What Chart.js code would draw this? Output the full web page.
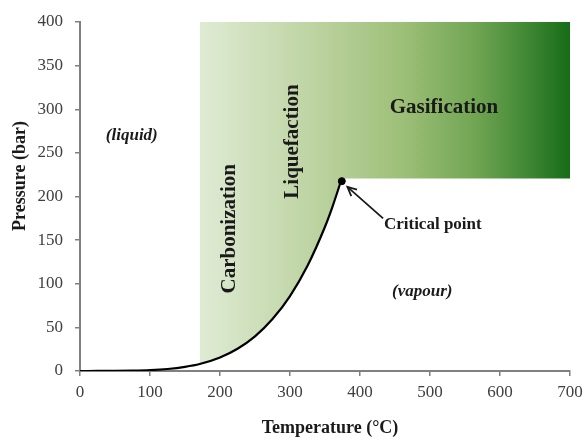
<!DOCTYPE html>
<html>
<head>
<meta charset="utf-8">
<script src="https://cdn.jsdelivr.net/npm/chart.js@4.4.1/dist/chart.umd.min.js"></script>
<style>
html,body{margin:0;padding:0;background:#fff;}
canvas{display:block;}
</style>
</head>
<body>
<canvas id="c" width="583" height="438"></canvas>
<script>
// Saturation (vapour pressure) curve of water
const temps     = [0, 25, 50, 75, 100, 125, 150, 171, 200, 225, 250, 275, 300, 325, 350, 360, 374];
const pressures = [0.006, 0.03, 0.12, 0.39, 1.01, 2.32, 4.76, 8.0, 15.5, 25.5, 39.7, 59.5, 85.9, 120.6, 165.3, 186.7, 220.6];
// Processing region boundaries
const regionStartT = 171;
const regionEndT = 700;
const criticalT = 374;
const criticalP = 220.6;
// Tick values
const xTicks = [0, 100, 200, 300, 400, 500, 600, 700];
const yTicks = [0, 50, 100, 150, 200, 250, 300, 350, 400];
// Annotations (data coordinates)
const labels = [
  {text: '(liquid)', t: 74, p: 270, rot: 0, font: 'italic bold 17px "Liberation Serif"'},
  {text: 'Carbonization', t: 214, p: 163, rot: -90, font: 'bold 21px "Liberation Serif"'},
  {text: 'Liquefaction', t: 303, p: 263, rot: -90, font: 'bold 21px "Liberation Serif"'},
  {text: 'Gasification', t: 520, p: 302, rot: 0, font: 'bold 21px "Liberation Serif"'},
  {text: 'Critical point', t: 504, p: 168, rot: 0, font: 'bold 17px "Liberation Serif"'},
  {text: '(vapour)', t: 489, p: 91, rot: 0, font: 'italic bold 17px "Liberation Serif"'}
];
const arrow = {fromT: 433, fromP: 175, toT: 382, toP: 211};

const curvePts = temps.map((t, i) => ({x: t, y: pressures[i]}));
const regionPts = curvePts.filter(p => p.x >= regionStartT).concat([{x: regionEndT, y: criticalP}]);

const annot = {
  id: 'annot',
  afterDatasetsDraw(chart) {
    const ctx = chart.ctx, xs = chart.scales.x, ys = chart.scales.y;
    ctx.save();
    ctx.fillStyle = '#1a1a1a';
    ctx.textAlign = 'center';
    ctx.textBaseline = 'middle';
    labels.forEach(l => {
      ctx.save();
      ctx.translate(xs.getPixelForValue(l.t), ys.getPixelForValue(l.p));
      ctx.rotate(l.rot * Math.PI / 180);
      ctx.font = l.font;
      ctx.fillText(l.text, 0, 0);
      ctx.restore();
    });
    // arrow
    const x1 = xs.getPixelForValue(arrow.fromT), y1 = ys.getPixelForValue(arrow.fromP);
    const x2 = xs.getPixelForValue(arrow.toT), y2 = ys.getPixelForValue(arrow.toP);
    ctx.strokeStyle = '#1a1a1a';
    ctx.lineWidth = 1.8;
    ctx.beginPath(); ctx.moveTo(x1, y1); ctx.lineTo(x2, y2); ctx.stroke();
    const a = Math.atan2(y2 - y1, x2 - x1), h = 10;
    ctx.beginPath();
    ctx.moveTo(x2 - h * Math.cos(a - 0.45), y2 - h * Math.sin(a - 0.45));
    ctx.lineTo(x2, y2);
    ctx.lineTo(x2 - h * Math.cos(a + 0.45), y2 - h * Math.sin(a + 0.45));
    ctx.stroke();
    // axis titles
    ctx.font = 'bold 18px "Liberation Serif"';
    ctx.fillText('Temperature (°C)', 330, 428);
    ctx.save();
    ctx.translate(20, 176);
    ctx.rotate(-Math.PI / 2);
    ctx.fillText('Pressure (bar)', 0, 0);
    ctx.restore();
    ctx.restore();
  }
};

const tickFont = {family: '"Liberation Serif"', size: 17};
new Chart(document.getElementById('c'), {
  type: 'scatter',
  data: {
    datasets: [
      {
        data: regionPts,
        showLine: true,
        borderWidth: 0,
        pointRadius: 0,
        fill: 'end',
        backgroundColor: (c) => {
          const chart = c.chart;
          if (!chart.chartArea) return '#a9c787';
          const xs = chart.scales.x;
          const g = chart.ctx.createLinearGradient(xs.getPixelForValue(regionStartT), 0, xs.getPixelForValue(regionEndT), 0);
          g.addColorStop(0, '#dfebd4');
          g.addColorStop(0.3, '#bed4a3');
          g.addColorStop(0.55, '#9dbf77');
          g.addColorStop(0.75, '#6fa452');
          g.addColorStop(0.9, '#3b8431');
          g.addColorStop(1, '#176c17');
          return g;
        },
        order: 3
      },
      {
        data: curvePts,
        showLine: true,
        borderColor: '#000',
        borderWidth: 2.2,
        pointRadius: 0,
        cubicInterpolationMode: 'monotone',
        fill: false,
        order: 2
      },
      {
        data: [{x: criticalT, y: criticalP - 3}],
        pointRadius: 3.5,
        pointBackgroundColor: '#000',
        pointBorderColor: '#000',
        order: 1
      }
    ]
  },
  options: {
    responsive: false,
    animation: false,
    layout: {padding: {top: 22, right: 13, left: 0, bottom: 0}},
    plugins: {legend: {display: false}, tooltip: {enabled: false}},
    scales: {
      x: {
        type: 'linear', min: 0, max: 700,
        afterBuildTicks: (s) => { s.ticks = xTicks.map(v => ({value: v})); },
        afterFit: (s) => { s.height = 67; s.paddingLeft = 0; s.paddingRight = 0; },
        ticks: {font: tickFont, color: '#404040', padding: 6},
        grid: {drawOnChartArea: false, drawTicks: true, tickLength: 5, color: '#808080', lineWidth: 1.5},
        border: {display: true, color: '#808080', width: 2}
      },
      y: {
        type: 'linear', min: 0, max: 400,
        afterBuildTicks: (s) => { s.ticks = yTicks.map(v => ({value: v})); },
        afterFit: (s) => { s.width = 80; s.paddingTop = 0; s.paddingBottom = 0; },
        ticks: {font: tickFont, color: '#404040', padding: 12},
        grid: {drawOnChartArea: false, drawTicks: true, tickLength: 5, color: '#808080', lineWidth: 1.5},
        border: {display: true, color: '#808080', width: 2}
      }
    }
  },
  plugins: [annot]
});
</script>
</body>
</html>
